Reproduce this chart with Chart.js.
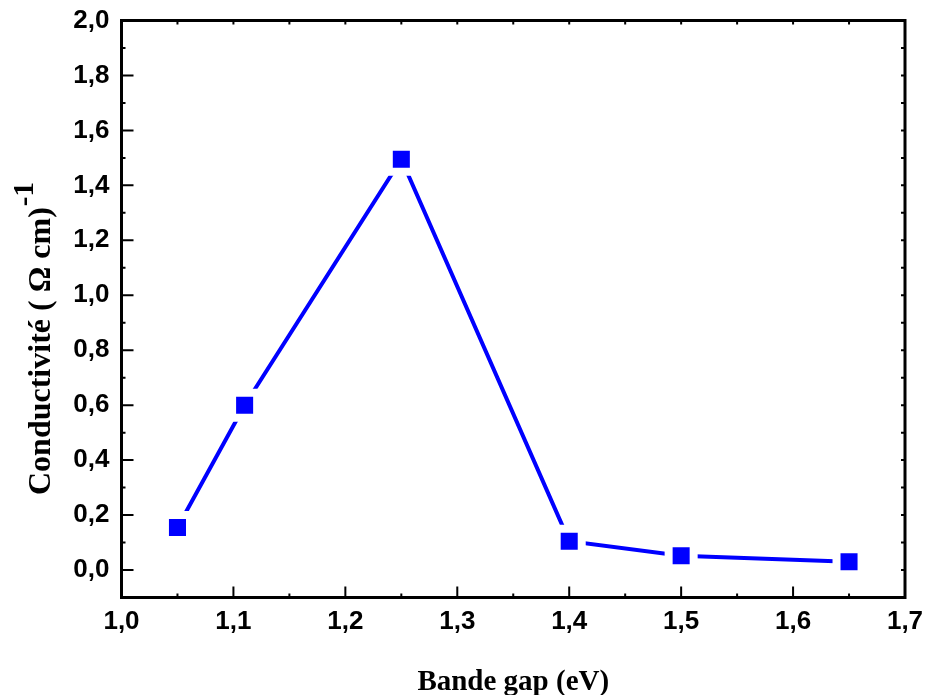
<!DOCTYPE html>
<html>
<head>
<meta charset="utf-8">
<script src="https://cdn.jsdelivr.net/npm/chart.js@4.4.1/dist/chart.umd.min.js"></script>
<style>
  html, body { margin: 0; padding: 0; background: #ffffff; }
  #wrap { width: 926px; height: 695px; position: relative; }
  canvas { display: block; }
</style>
</head>
<body>
<div id="wrap"><canvas id="chart" width="926" height="695"></canvas></div>
<script>
// Band gap (eV) against conductivity (Ω cm)^-1
const bandGap = [1.05, 1.11, 1.25, 1.40, 1.50, 1.65];
const conductivity = [0.155, 0.60, 1.495, 0.105, 0.052, 0.030];

// Axis ticks
const xTickValues = [1.0, 1.1, 1.2, 1.3, 1.4, 1.5, 1.6, 1.7];
const yTickValues = [0.0, 0.2, 0.4, 0.6, 0.8, 1.0, 1.2, 1.4, 1.6, 1.8, 2.0];

const xTitle = 'Bande gap (eV)';
const yTitle = 'Conductivité ( Ω cm)';
const yTitleSup = '-1';

const fmtComma = v => Number(v).toFixed(1).replace('.', ',');

// Midpoints between consecutive major ticks, used for minor tick marks
function minorTicks(majors) {
  const out = [];
  for (let i = 0; i < majors.length - 1; i++) out.push((majors[i] + majors[i + 1]) / 2);
  return out;
}

const serif = '"Liberation Serif", "Times New Roman", serif';

// Boxed frame with inward ticks on all four sides, plus axis titles
const framePlugin = {
  id: 'frame',
  afterDraw(chart) {
    const { ctx, chartArea: a, scales: { x, y } } = chart;
    ctx.save();
    ctx.strokeStyle = '#000';
    ctx.lineCap = 'butt';

    // ticks
    ctx.lineWidth = 2;
    const xMin = minorTicks(xTickValues);
    const yMin = [-0.1].concat(minorTicks(yTickValues)).filter(v => v > y.min && v < y.max);
    ctx.beginPath();
    xTickValues.forEach(v => {
      const px = x.getPixelForValue(v);
      ctx.moveTo(px, a.bottom); ctx.lineTo(px, a.bottom - 11);
      ctx.moveTo(px, a.top); ctx.lineTo(px, a.top + 4);
    });
    xMin.forEach(v => {
      const px = x.getPixelForValue(v);
      ctx.moveTo(px, a.bottom); ctx.lineTo(px, a.bottom - 4);
      ctx.moveTo(px, a.top); ctx.lineTo(px, a.top + 4);
    });
    yTickValues.forEach(v => {
      const py = y.getPixelForValue(v);
      ctx.moveTo(a.left, py); ctx.lineTo(a.left + 12, py);
      ctx.moveTo(a.right, py); ctx.lineTo(a.right - 4, py);
    });
    yMin.forEach(v => {
      const py = y.getPixelForValue(v);
      ctx.moveTo(a.left, py); ctx.lineTo(a.left + 4, py);
      ctx.moveTo(a.right, py); ctx.lineTo(a.right - 4, py);
    });
    ctx.stroke();

    // frame
    ctx.lineWidth = 3;
    ctx.strokeRect(a.left, a.top, a.right - a.left, a.bottom - a.top);

    // x title
    ctx.fillStyle = '#000';
    ctx.font = 'bold 29px ' + serif;
    ctx.textAlign = 'center';
    ctx.textBaseline = 'alphabetic';
    ctx.fillText(xTitle, (a.left + a.right) / 2, 690);

    // y title, rotated, with superscript
    ctx.save();
    ctx.translate(49.5, 495);
    ctx.rotate(-Math.PI / 2);
    ctx.textAlign = 'left';
    ctx.font = 'bold 32px ' + serif;
    ctx.fillText(yTitle, 0, 0);
    const w = ctx.measureText(yTitle).width;
    ctx.font = 'bold 29px ' + serif;
    ctx.fillText(yTitleSup, w + 1, -16.5);
    ctx.restore();

    ctx.restore();
  }
};

const tickFont = { family: '"Liberation Sans", Arial, sans-serif', size: 26, weight: 'bold' };

new Chart(document.getElementById('chart'), {
  type: 'scatter',
  data: {
    datasets: [{
      data: bandGap.map((b, i) => ({ x: b, y: conductivity[i] })),
      showLine: true,
      borderColor: '#0000ff',
      borderWidth: 4,
      backgroundColor: '#0000ff',
      pointStyle: 'rect',
      pointRadius: 17.7,
      pointHoverRadius: 17.7,
      pointBorderColor: '#ffffff',
      pointBorderWidth: 8,
      pointBackgroundColor: '#0000ff',
      tension: 0
    }]
  },
  options: {
    responsive: false,
    animation: false,
    devicePixelRatio: 1,
    layout: { autoPadding: false, padding: { top: 20.5, right: 21, left: 0, bottom: 0 } },
    plugins: { legend: { display: false }, tooltip: { enabled: false } },
    scales: {
      x: {
        type: 'linear',
        min: 1.0, max: 1.7,
        grid: { display: false, drawTicks: false },
        border: { display: false },
        afterBuildTicks: s => { s.ticks = xTickValues.map(v => ({ value: v })); },
        afterFit: s => { s.height = 97.5; s.paddingLeft = 0; s.paddingRight = 0; },
        ticks: { color: '#000', font: tickFont, padding: 9, maxRotation: 0, autoSkip: false, callback: fmtComma }
      },
      y: {
        type: 'linear',
        min: -0.1, max: 2.0,
        grid: { display: false, drawTicks: false },
        border: { display: false },
        afterBuildTicks: s => { s.ticks = yTickValues.map(v => ({ value: v })); },
        afterFit: s => { s.width = 121.5; s.paddingTop = 0; s.paddingBottom = 0; },
        ticks: { color: '#000', font: tickFont, padding: 12, autoSkip: false, callback: fmtComma }
      }
    }
  },
  plugins: [framePlugin]
});
</script>
</body>
</html>
